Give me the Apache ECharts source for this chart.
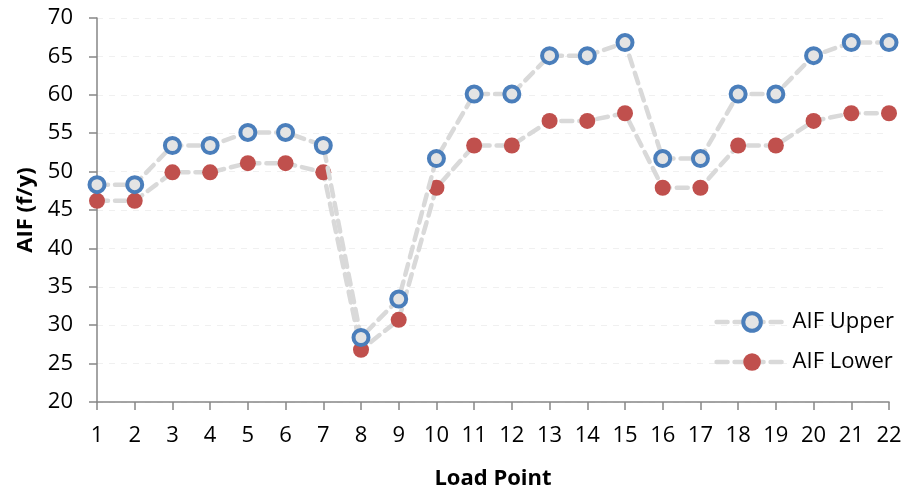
<!DOCTYPE html>
<html>
<head>
<meta charset="utf-8">
<script src="https://cdn.jsdelivr.net/npm/echarts@6/dist/echarts.min.js"></script>
<style>html,body{margin:0;padding:0;background:#fff;}#c{width:906px;height:493px;}</style>
</head>
<body>
<div id="c"></div>
<script>
const categories = ['1','2','3','4','5','6','7','8','9','10','11','12','13','14','15','16','17','18','19','20','21','22'];
const aifUpper = [48.3,48.3,53.4,53.4,55.1,55.1,53.4,28.4,33.4,51.7,60.1,60.1,65.1,65.1,66.8,51.7,51.7,60.1,60.1,65.1,66.8,66.8];
const aifLower = [46.2,46.2,49.9,49.9,51.1,51.1,49.9,26.8,30.7,47.9,53.4,53.4,56.6,56.6,57.6,47.9,47.9,53.4,53.4,56.6,57.6,57.6];
const seriesNames = ['AIF Upper','AIF Lower'];
const yTitle = 'AIF (f/y)';
const xTitle = 'Load Point';

const font = '"Open Sans", "Noto Sans", sans-serif';
const axisColor = '#868686';
const chart = echarts.init(document.getElementById('c'), null, {renderer:'canvas'});
const lineStyle = {color:'#d9d9d9', width:4.5, type:[11,7], cap:'round'};
chart.setOption({
  animation:false,
  backgroundColor:'#fff',
  grid:{left:97, right:17, top:18, bottom:91, containLabel:false, outerBoundsMode:'none'},
  legend:{
    right:12, top:311, orient:'vertical', itemGap:18, padding:0,
    itemWidth:71, itemHeight:22,
    lineStyle:{width:4.5, type:[11,7], color:'#d9d9d9'},
    textStyle:{fontFamily:font, fontSize:22, lineHeight:22, color:'#000'},
    data:[
      {name:seriesNames[0], itemStyle:{color:'#e4e4e4', borderColor:'#4a7ebb', borderWidth:4}},
      {name:seriesNames[1], itemStyle:{color:'#c0504d', borderWidth:0}}
    ]
  },
  xAxis:{
    type:'category', data:categories, boundaryGap:false,
    name:xTitle, nameLocation:'middle', nameGap:66,
    nameTextStyle:{fontFamily:font, fontSize:22, fontWeight:'bold', color:'#000'},
    axisLine:{lineStyle:{color:axisColor, width:1.5}},
    axisTick:{show:true, length:8, lineStyle:{color:axisColor, width:1.5}, alignWithLabel:true},
    axisLabel:{fontFamily:font, fontSize:22, color:'#000', margin:23, interval:0},
    splitLine:{show:false}
  },
  yAxis:{
    type:'value', min:20, max:70, interval:5,
    name:yTitle, nameLocation:'middle', nameGap:60, nameRotate:90,
    nameTextStyle:{fontFamily:font, fontSize:22, fontWeight:'bold', color:'#000'},
    axisLine:{show:true, lineStyle:{color:axisColor, width:1.5}},
    axisTick:{show:true, length:8, lineStyle:{color:axisColor, width:1.5}},
    axisLabel:{fontFamily:font, fontSize:22, color:'#000', margin:24},
    splitLine:{show:true, lineStyle:{color:'#f0f0f0', width:1, type:[6,6]}}
  },
  series:[
    {
      name:seriesNames[0], type:'line', data:aifUpper,
      symbol:'circle', symbolSize:15,
      lineStyle:lineStyle,
      itemStyle:{color:'#e4e4e4', borderColor:'#4a7ebb', borderWidth:4},
      z:3
    },
    {
      name:seriesNames[1], type:'line', data:aifLower,
      symbol:'circle', symbolSize:16,
      lineStyle:lineStyle,
      itemStyle:{color:'#c0504d', borderColor:'#c0504d', borderWidth:0},
      z:2
    }
  ]
});
</script>
</body>
</html>
